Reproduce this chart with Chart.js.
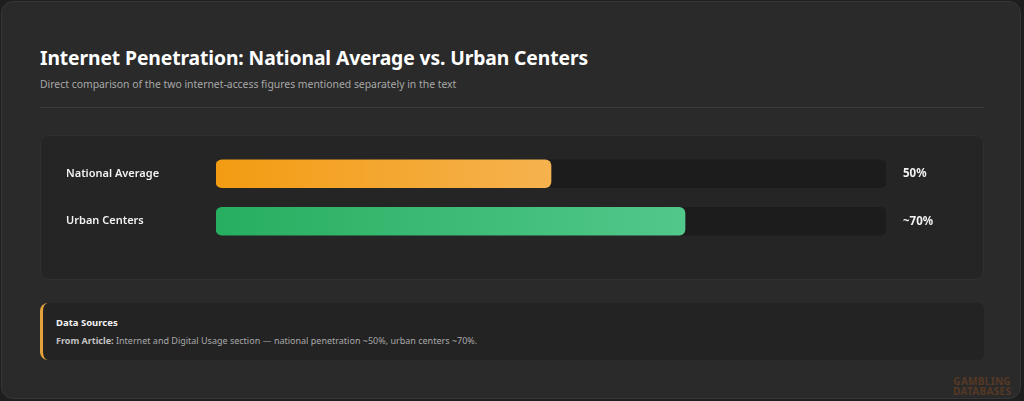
<!DOCTYPE html>
<html>
<head>
<meta charset="utf-8">
<script src="https://cdn.jsdelivr.net/npm/chart.js@4.4.0/dist/chart.umd.min.js"></script>
<style>
    html, body { margin: 0; padding: 0; }
    body {
        width: 1024px; height: 401px; overflow: hidden;
        background: #1e1e1e;
        font-family: "Noto Sans", "Open Sans", sans-serif;
    }
    .card {
        position: absolute; left: 1px; top: 1px; width: 1018px; height: 396px;
        background: #2a2a2a; border: 1px solid #363636; border-radius: 12px;
    }
    h1 {
        position: absolute; left: 40px; top: 44px; margin: 0;
        font-size: 19.3px; font-weight: 700; color: #ffffff; letter-spacing: -0.1px;
    }
    .subtitle {
        position: absolute; left: 40px; top: 77px; margin: 0;
        font-size: 10.4px; color: #a8a8a8;
    }
    .divider {
        position: absolute; left: 40px; top: 107px; width: 944px; height: 1px; background: #3c3c3c;
    }
    .panel {
        position: absolute; left: 40px; top: 135px; width: 942px; height: 143px;
        background: #252525; border: 1px solid #303030; border-radius: 9px;
    }
    #penetrationChart {
        position: absolute; left: 66px; top: 150px;
    }
    .sources {
        position: absolute; left: 40px; top: 303px; width: 941px; height: 57px;
        background: #232323; border-left: 3px solid #e3a23a; border-radius: 8px 6px 6px 8px;
    }
    .sources .head {
        position: absolute; left: 13px; top: 13px; font-size: 9.5px; font-weight: 700; color: #f2f2f2;
    }
    .sources .body {
        position: absolute; left: 13px; top: 31px; font-size: 9px; color: #a8a8a8; white-space: nowrap;
    }
    .sources .body b { color: #c4c4c4; }
    .mark {
        position: absolute; left: 953px; top: 376px; font-size: 10px; font-weight: 700;
        line-height: 10px; color: #8a4a1e; opacity: 0.45; text-align: center; letter-spacing: 0.3px;
    }
</style>
</head>
<body>
<div class="card"></div>
<h1>Internet Penetration: National Average vs. Urban Centers</h1>
<p class="subtitle">Direct comparison of the two internet-access figures mentioned separately in the text</p>
<div class="divider"></div>
<div class="panel"></div>
<canvas id="penetrationChart" width="900" height="95"></canvas>
<div class="sources">
    <div class="head">Data Sources</div>
    <div class="body"><b>From Article:</b> Internet and Digital Usage section — national penetration ~50%, urban centers ~70%.</div>
</div>
<div class="mark">GAMBLING<br>DATABASES</div>

<script>
// chart values
const categories = ["National Average", "Urban Centers"];
const penetration = [50, 70];
const valueLabels = ["50%", "~70%"];
const trackValues = [100, 100];
const barColors = [["#f39c12", "#f5b24e"], ["#27ae60", "#52c88b"]];

document.addEventListener("DOMContentLoaded", () => {
    const ctx = document.getElementById("penetrationChart").getContext("2d");

    // gradient spans the bar itself, left to right
    const barGradient = (context) => {
        const chart = context.chart;
        const colors = barColors[context.dataIndex] || barColors[0];
        const xScale = chart.scales.x;
        if (!chart.chartArea || !xScale) return colors[0];
        const x0 = xScale.getPixelForValue(0);
        const x1 = xScale.getPixelForValue(penetration[context.dataIndex]);
        if (!isFinite(x0) || !isFinite(x1) || x1 === x0) return colors[0];
        const g = chart.ctx.createLinearGradient(x0, 0, x1, 0);
        g.addColorStop(0, colors[0]);
        g.addColorStop(1, colors[1]);
        return g;
    };

    // fixed side widths, and no label padding above/below the rows
    const fitSide = (width) => (scale) => {
        scale.width = width;
        scale.paddingTop = 0;
        scale.paddingBottom = 0;
    };

    new Chart(ctx, {
        type: "bar",
        data: {
            labels: categories,
            datasets: [
                {
                    label: "Penetration",
                    data: penetration,
                    backgroundColor: barGradient,
                    borderRadius: 6,
                    borderSkipped: false,
                    barThickness: 28,
                    grouped: false,
                    order: 1
                },
                {
                    label: "Track",
                    data: trackValues,
                    backgroundColor: "#1c1c1c",
                    borderRadius: 6,
                    borderSkipped: false,
                    barThickness: 28,
                    grouped: false,
                    order: 2
                }
            ]
        },
        options: {
            indexAxis: "y",
            responsive: false,
            animation: false,
            layout: { padding: 0 },
            plugins: {
                legend: { display: false },
                tooltip: { enabled: false }
            },
            scales: {
                x: {
                    min: 0,
                    max: 100,
                    display: false
                },
                y: {
                    grid: { display: false },
                    border: { display: false },
                    afterFit: fitSide(150),
                    ticks: {
                        crossAlign: "far",
                        color: "#f2f2f2",
                        font: { family: "Noto Sans", size: 11, weight: "600" }
                    }
                },
                y2: {
                    type: "category",
                    position: "right",
                    labels: valueLabels,
                    grid: { display: false, drawTicks: false },
                    border: { display: false },
                    afterFit: fitSide(80),
                    ticks: {
                        crossAlign: "near",
                        padding: 17,
                        color: "#f2f2f2",
                        font: { family: "Noto Sans", size: 11.5, weight: "700" }
                    }
                }
            }
        }
    });
});
</script>
</body>
</html>
